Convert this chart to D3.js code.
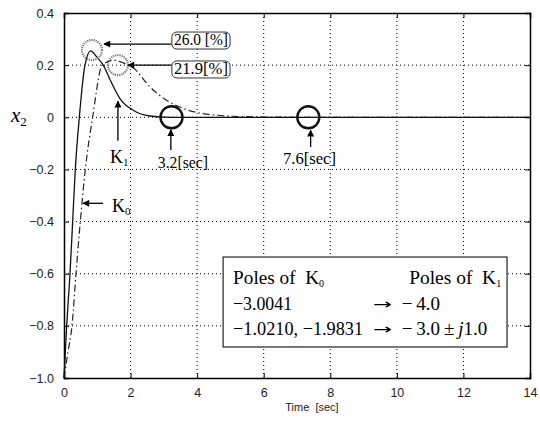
<!DOCTYPE html>
<html><head><meta charset="utf-8">
<script src="https://cdn.jsdelivr.net/npm/d3@7/dist/d3.min.js"></script>
<style>
body{margin:0;background:#fff;}
svg{display:block;}
</style></head>
<body>
<svg id="c" width="540" height="421"></svg>
<script>
// ---- data ----
const xTicks = [0,2,4,6,8,10,12,14];
const yTicks = [0.4,0.2,0,-0.2,-0.4,-0.6,-0.8,-1.0];
const yTickLabels = ["0.4","0.2","0","\u22120.2","\u22120.4","\u22120.6","\u22120.8","\u22121.0"];
// K1 response (solid)
const k1T = [0,0.04,0.08,0.13,0.18,0.26,0.34,0.46,0.63,0.8,0.98,1.18,1.4,1.68,2.08,2.58,3.2,14];
const k1V = [-1.0,-0.9,-0.8,-0.7,-0.6,-0.4,-0.2,0,0.2,0.255,0.232,0.2,0.14,0.072,0.027,0.005,0,0];
// K0 response (dash-dot)
const k0T = [0,0.12,0.24,0.36,0.49,0.64,0.86,1.15,1.5,1.75,2.08,2.58,3.08,3.58,4.58,5.6,7.6,14];
const k0V = [-1.0,-0.9,-0.8,-0.6,-0.4,-0.2,0,0.2,0.219,0.21,0.19,0.117,0.065,0.034,0.008,0.002,0,0];
// annotation anchor points (data units)
const ringsGray = [[0.84,0.258],[1.62,0.2]];
const ringsBlack = [[3.23,0],[7.34,0]];
const boxLabels = ["26.0 [%]","21.9[%]"];
const tableRows = [["Poles of  ","K","0","Poles of  ","K","1"],["\u22123.0041","","","\u2212\u20094.0"],["\u22121.0210, \u22121.9831","","","\u2212\u20093.0\u2009\u00b1\u2009","j","1.0"]];

const svg = d3.select("#c");
const x = d3.scaleLinear().domain([0,14]).range([64,530]);
const y = d3.scaleLinear().domain([-1,0.4]).range([378,13]);

// grid
const g = svg.append("g");
g.selectAll("line.vg").data(xTicks.slice(1,-1)).join("line")
  .attr("x1",d=>x(d)).attr("x2",d=>x(d)).attr("y1",y(-1)).attr("y2",y(0.4))
  .attr("stroke","#000").attr("stroke-width",1).attr("stroke-dasharray","1,3");
g.selectAll("line.hg").data(yTicks.slice(1,-1)).join("line")
  .attr("y1",d=>y(d)).attr("y2",d=>y(d)).attr("x1",x(0)).attr("x2",x(14))
  .attr("stroke","#000").attr("stroke-width",1).attr("stroke-dasharray","1,3");

// axes (ticks inward)
const ax = d3.axisBottom(x).tickValues(xTicks).tickSize(-5).tickPadding(10).tickFormat(d3.format("d"));
const ay = d3.axisLeft(y).tickValues(yTicks).tickSize(-5).tickPadding(10).tickFormat((d,i)=>yTickLabels[i]);
const axg = svg.append("g").attr("transform",`translate(0,${y(-1)})`).call(ax);
const ayg = svg.append("g").attr("transform",`translate(${x(0)},0)`).call(ay);
svg.append("g").attr("transform",`translate(0,${y(0.4)})`).call(d3.axisTop(x).tickValues(xTicks).tickSize(-5).tickFormat(""));
svg.append("g").attr("transform",`translate(${x(14)},0)`).call(d3.axisRight(y).tickValues(yTicks).tickSize(-5).tickFormat(""));
svg.selectAll(".domain").attr("stroke","#000").attr("stroke-width",1.5);
svg.selectAll(".tick line").attr("stroke","#000");
[axg,ayg].forEach(a=>a.selectAll("text").attr("font-family","Liberation Sans, Arial, sans-serif").attr("font-size","12.5px").attr("fill","#222"));

svg.append("text").attr("x",(x(0)+x(14))/2+15).attr("y",411)
  .attr("text-anchor","middle").attr("font-family","Liberation Sans, Arial, sans-serif")
  .attr("font-size","11px").attr("fill","#222").text("Time  [sec]").style("white-space","pre");
const yl = svg.append("text").attr("x",11).attr("y",y(0)+5).attr("font-family","Liberation Serif, Times New Roman, serif").attr("font-size","21px");
yl.append("tspan").attr("font-style","italic").text("x");
yl.append("tspan").attr("font-size","13px").attr("dy",4).text("2");

// curves
const line = d3.line().x(d=>x(d[0])).y(d=>y(d[1])).curve(d3.curveMonotoneX);
svg.append("path").datum(k0T.map((t,i)=>[t,k0V[i]])).attr("d",line)
  .attr("fill","none").attr("stroke","#222").attr("stroke-width",1.2).attr("stroke-dasharray","7,3,1.5,3");
svg.append("path").datum(k1T.map((t,i)=>[t,k1V[i]])).attr("d",line)
  .attr("fill","none").attr("stroke","#111").attr("stroke-width",1.3);

// rings
svg.selectAll("circle.gr").data(ringsGray).join("circle")
  .attr("cx",d=>x(d[0])).attr("cy",d=>y(d[1])).attr("r",10)
  .attr("fill","none").attr("stroke","#777").attr("stroke-width",2.2).attr("stroke-dasharray","1.2,1");
svg.selectAll("circle.bk").data(ringsBlack).join("circle")
  .attr("cx",d=>x(d[0])).attr("cy",d=>y(d[1])).attr("r",11)
  .attr("fill","none").attr("stroke","#111").attr("stroke-width",2.4);

// arrows
svg.append("defs").append("marker").attr("id","ah").attr("viewBox","0 0 10 10")
  .attr("refX",9).attr("refY",5).attr("markerWidth",10).attr("markerHeight",7).attr("orient","auto").attr("markerUnits","userSpaceOnUse")
  .append("path").attr("d","M0,0 L10,5 L0,10 z").attr("fill","#000");
const arrows = [
  [[3.24,0.281],[1.2,0.281]],
  [[3.24,0.2],[1.92,0.2]],
  [[1.62,-0.09],[1.62,0.062]],
  [[3.21,-0.125],[3.21,-0.048]],
  [[7.41,-0.114],[7.41,-0.05]],
  [[1.17,-0.33],[0.57,-0.33]]
];
svg.selectAll("line.ar").data(arrows).join("line")
  .attr("x1",d=>x(d[0][0])).attr("y1",d=>y(d[0][1])).attr("x2",d=>x(d[1][0])).attr("y2",d=>y(d[1][1]))
  .attr("stroke","#000").attr("stroke-width",1.3).attr("marker-end","url(#ah)");

const serif = "Liberation Serif, Times New Roman, serif";
// boxed percent labels
const boxTops = [0.327,0.216];
boxLabels.forEach((lab,i)=>{
  const x0=x(3.24), x1=x(4.99), y0=y(boxTops[i]), h=17;
  svg.append("rect").attr("x",x0).attr("y",y0).attr("width",x1-x0).attr("height",h).attr("rx",5)
    .attr("fill","#fff").attr("stroke","#333").attr("stroke-width",1);
  svg.append("text").attr("x",(x0+x1)/2).attr("y",y0+h-4).attr("text-anchor","middle")
    .attr("font-family",serif).attr("font-size","16px").attr("textLength",54).attr("lengthAdjust","spacingAndGlyphs").text(lab);
});

// K labels and sec labels
function kLabel(t,v,sub){
  const tx=svg.append("text").attr("x",x(t)).attr("y",y(v)).attr("font-family",serif).attr("font-size","18px");
  tx.append("tspan").text("K"); tx.append("tspan").attr("font-size","11px").attr("dy",3).text(sub);
}
kLabel(1.38,-0.176,"1");
kLabel(1.44,-0.363,"0");
svg.append("text").attr("x",x(2.82)).attr("y",y(-0.195)).attr("font-family",serif).attr("font-size","16px").attr("textLength",50).attr("lengthAdjust","spacingAndGlyphs").text("3.2[sec]");
svg.append("text").attr("x",x(6.58)).attr("y",y(-0.18)).attr("font-family",serif).attr("font-size","16px").attr("textLength",53).attr("lengthAdjust","spacingAndGlyphs").text("7.6[sec]");

// poles table
svg.append("rect").attr("x",x(4.78)).attr("y",y(-0.536)).attr("width",x(13.31)-x(4.78)).attr("height",y(-0.881)-y(-0.536))
  .attr("fill","#fff").attr("stroke","#222").attr("stroke-width",1.2);
const rowV=[-0.64,-0.74,-0.836];
const fs="19px";
function txt(t,v,s,len){
  const e=svg.append("text").attr("x",x(t)).attr("y",y(v)).attr("font-family",serif).attr("font-size",fs).style("white-space","pre").text(s);
  if(len) e.attr("textLength",len).attr("lengthAdjust","spacingAndGlyphs");
  return e;
}
const r0=txt(5.08,rowV[0],"");
r0.append("tspan").attr("textLength",86).attr("lengthAdjust","spacingAndGlyphs").text(tableRows[0][0]+tableRows[0][1]);
r0.append("tspan").attr("font-size","10px").attr("dy",3).text(tableRows[0][2]);
const r0b=txt(10.37,rowV[0],"");
r0b.append("tspan").attr("textLength",87).attr("lengthAdjust","spacingAndGlyphs").text(tableRows[0][3]+tableRows[0][4]);
r0b.append("tspan").attr("font-size","10px").attr("dy",3).text(tableRows[0][5]);
txt(5.08,rowV[1],tableRows[1][0],59);
txt(5.08,rowV[2],tableRows[2][0],130);
[1,2].forEach(i=>{
  svg.append("text").attr("x",x(9.28)).attr("y",y(rowV[i])-1).attr("font-family","DejaVu Sans, sans-serif").attr("font-size","14px").attr("textLength",19).attr("lengthAdjust","spacingAndGlyphs").text("\u2192");
});
txt(10.15,rowV[1],tableRows[1][3]);
const r2=txt(10.15,rowV[2],"");
r2.append("tspan").text(tableRows[2][3]); r2.append("tspan").attr("font-style","italic").text(tableRows[2][4]); r2.append("tspan").text(tableRows[2][5]);
</script>
</body></html>
